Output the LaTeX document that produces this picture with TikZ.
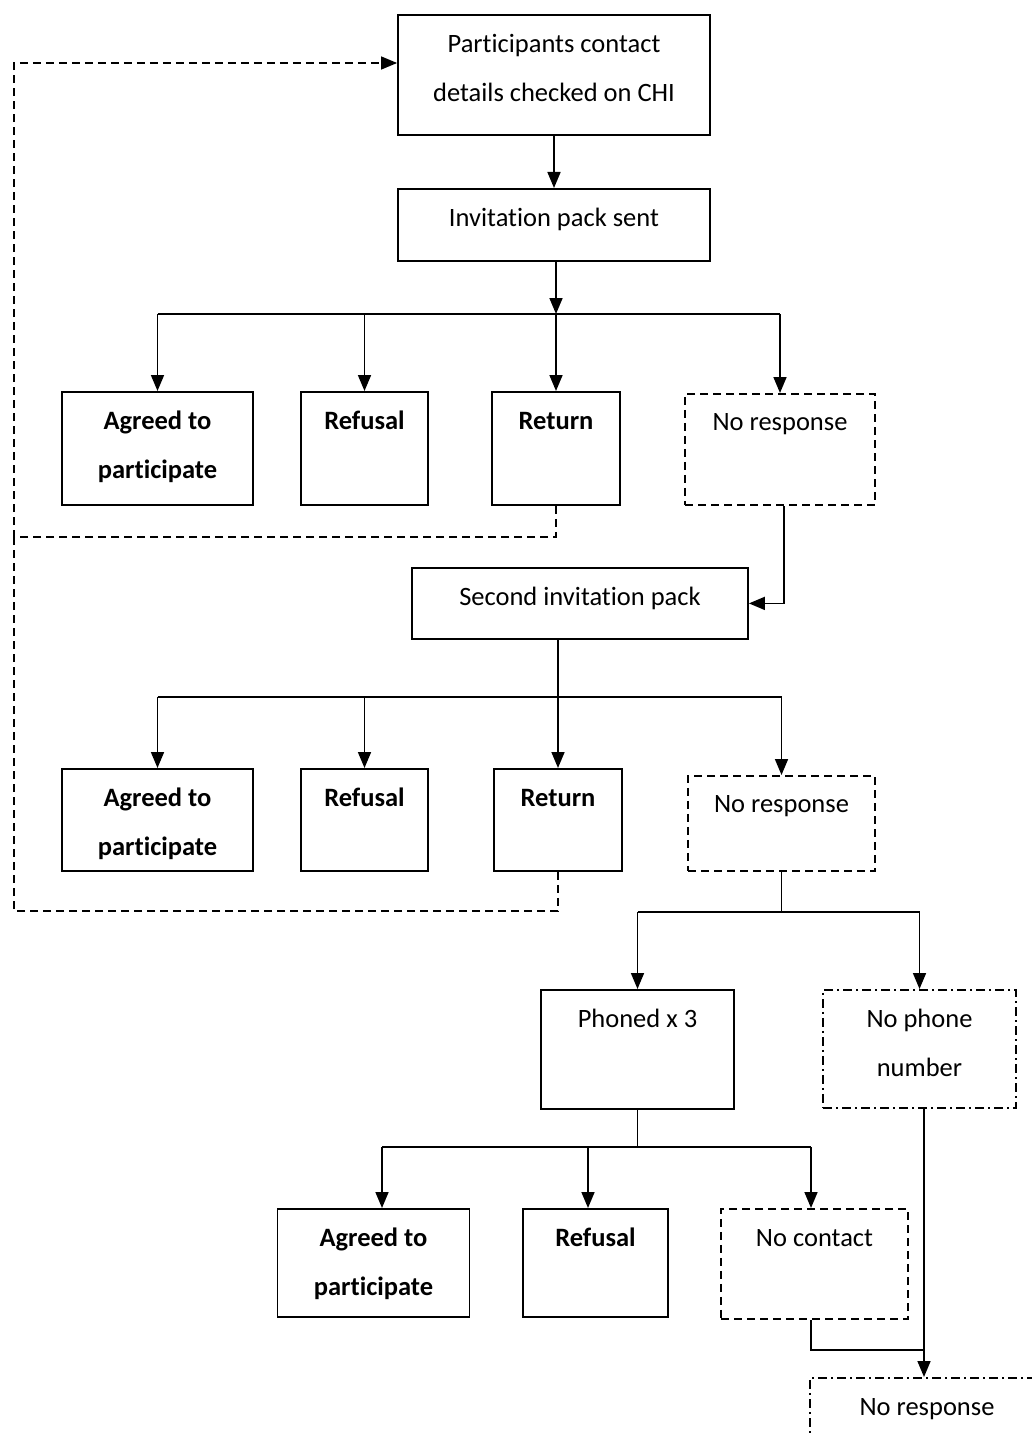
\documentclass[tikz,border=0pt]{standalone}
\usepackage{fontspec}
\setmainfont{Carlito}[Ligatures={TeX,NoCommon}]
\usetikzlibrary{arrows.meta}

\tikzset{
  arr/.style={-{Triangle[width=13pt,length=16pt]}},
  dashbox/.style={dash pattern=on 8pt off 5pt},
  dotbox/.style={dash pattern=on 9pt off 4pt on 2pt off 4pt},
  loopline/.style={line width=1.3pt,dash pattern=on 8pt off 5pt},
  twolines/.style={text height=86.5pt},
}

\begin{document}
\begin{tikzpicture}[x=1pt,y=-1pt,line width=1.7pt]

        \useasboundingbox (0,0) rectangle (1032,1434);

        \begin{scope}[every node/.style={draw,line width=1.8pt,anchor=north,align=center,inner sep=0pt,
            text height=37.5pt,font=\fontsize{26.5}{49}\selectfont}]
          \node[minimum width=312pt,twolines,text depth=33.5pt] (1)  at (554,14)    {Participants contact\\details checked on CHI};
          \node[minimum width=312pt,text depth=34.5pt] (2)  at (554,188)   {Invitation pack sent};
          \node[minimum width=191pt,twolines,text depth=26.5pt] (3)  at (157.5,391) {\bfseries Agreed to\\\bfseries participate};
          \node[minimum width=127pt,text depth=75.5pt] (4)  at (364.5,391) {\bfseries Refusal};
          \node[minimum width=128pt,text depth=75.5pt] (5)  at (556,391)   {\bfseries Return};
          \node[minimum width=190pt,text height=37pt,text depth=74pt,dashbox] (6) at (780,393) {No response};
          \node[minimum width=336pt,text depth=33.5pt] (7)  at (580,567)   {Second invitation pack};
          \node[minimum width=191pt,twolines,text depth=15.5pt] (8)  at (157.5,768) {\bfseries Agreed to\\\bfseries participate};
          \node[minimum width=127pt,text depth=64.5pt] (9)  at (364.5,768) {\bfseries Refusal};
          \node[minimum width=128pt,text depth=64.5pt] (10) at (558,768)   {\bfseries Return};
          \node[minimum width=187pt,text height=37pt,text depth=58pt,dashbox] (11) at (781.5,775) {No response};
          \node[minimum width=193pt,text depth=81.5pt] (12) at (637.5,989) {Phoned x 3};
          \node[minimum width=193pt,twolines,text depth=31.5pt,dotbox] (13) at (919.5,989) {No phone\\number};
          \node[minimum width=192pt,twolines,text depth=21.5pt] (14) at (373.5,1208) {\bfseries Agreed to\\\bfseries participate};
          \node[minimum width=145pt,text depth=70.5pt] (15) at (595.5,1208) {\bfseries Refusal};
          \node[minimum width=187pt,text depth=72.5pt,dashbox] (16) at (814.5,1208) {No contact};
          \node[minimum width=234pt,text depth=100pt,dotbox] (17) at (927,1377) {No response};
        \end{scope}

        % junctions
        \coordinate (j1) at (556,314);
        \coordinate (j2) at (558,697);
        \coordinate (j3) at (781.5,912);
        \coordinate (j4) at (636,1147);
        \coordinate (j5) at (924,1350);
        \coordinate (c1) at (14,63);
        \coordinate (c2) at (14,911);
        \coordinate (c3) at (14,537);

        % first pack
        \draw[arr] (1) -- (2);
        \draw[arr] (2.south -| j1) -- (j1);
        \draw (3.north |- j1) -- (6.north |- j1);
        \draw[arr] (3.north |- j1) -- (3.north);
        \draw[arr] (4.north |- j1) -- (4.north);
        \draw[arr] (5.north |- j1) -- (5.north);
        \draw[arr] (6.north |- j1) -- (6.north);
        \draw[arr] ([xshift=4pt]6.south) |- (7.east);

        % second pack
        \draw[arr] (7.south -| 10.north) -- (10.north);
        \draw (8.north |- j2) -- (11.north |- j2);
        \draw[arr] (8.north |- j2) -- (8.north);
        \draw[arr] (9.north |- j2) -- (9.north);
        \draw[arr] (11.north |- j2) -- (11.north);

        % returns go back to the start
        \draw[loopline,arr] (5.south) |- (c3) |- (1.west |- c1);
        \draw[loopline] (10.south) |- (c2) -- (c3);

        % phone calls
        \draw (11.south) -- (j3);
        \draw (12.north |- j3) -- (13.north |- j3);
        \draw[arr] (12.north |- j3) -- (12.north);
        \draw[arr] (13.north |- j3) -- (13.north);
        \draw (12.south) -- (12.south |- j4);
        \draw ([xshift=8.5pt]14.north |- j4) -- ([xshift=-3.5pt]16.north |- j4);
        \draw[arr] ([xshift=8.5pt]14.north |- j4) -- ([xshift=8.5pt]14.north);
        \draw[arr] ([xshift=-7.5pt]15.north |- j4) -- ([xshift=-7.5pt]15.north);
        \draw[arr] ([xshift=-3.5pt]16.north |- j4) -- ([xshift=-3.5pt]16.north);
        \draw ([xshift=-3.5pt]16.south) |- (j5);
        \draw[arr] (13.south -| j5) -- (17.north -| j5);

      \end{tikzpicture}
\end{document}
